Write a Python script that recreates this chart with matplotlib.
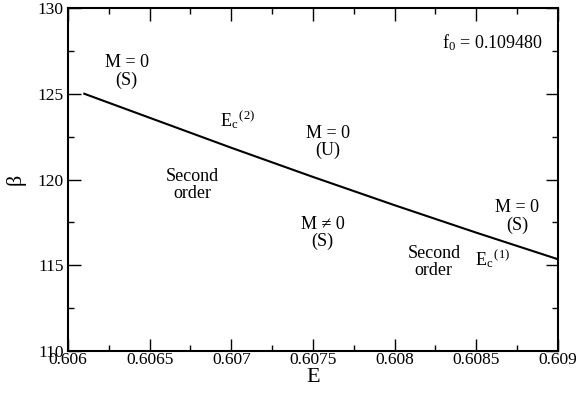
import numpy as np
import matplotlib
matplotlib.use('Agg')
import matplotlib.pyplot as plt
from matplotlib.ticker import MultipleLocator

plt.rcParams['font.family'] = ['Liberation Serif', 'DejaVu Serif']
plt.rcParams['mathtext.fontset'] = 'custom'
plt.rcParams['mathtext.rm'] = 'Liberation Serif'
plt.rcParams['mathtext.it'] = 'Liberation Serif:italic'

## Critical line beta(E)
energy = [0.6061, 0.6065, 0.6070, 0.6075, 0.6080, 0.6085, 0.6090]
beta = [125.0, 123.6, 121.85, 120.15, 118.5, 116.9, 115.35]

## Axis ticks
x_ticks = [0.606, 0.6065, 0.607, 0.6075, 0.608, 0.6085, 0.609]
x_labels = ['0.606', '0.6065', '0.607', '0.6075', '0.608', '0.6085', '0.609']
y_ticks = [110, 115, 120, 125, 130]

## Phase labels: (text, E, beta)
regions = [
    ('M = 0\n(S)', 0.60636, 126.3),
    ('M = 0\n(U)', 0.60759, 122.2),
    ('Second\norder', 0.60676, 119.7),
    ('M \u2260 0\n(S)', 0.60756, 116.9),
    ('Second\norder', 0.60824, 115.2),
    ('M = 0\n(S)', 0.60875, 117.85),
]
critical = [
    (r'$\mathrm{E_c}^{\,(2)}$', 0.60704, 123.5),
    (r'$\mathrm{E_c}^{\,(1)}$', 0.60860, 115.4),
]
f0_label = r'f$_0$ = 0.109480'

fig = plt.figure(figsize=(5.78, 3.94), dpi=100)
ax = fig.add_axes([0.1176, 0.1091, 0.8478, 0.8706])
ax.plot(energy, beta, color='black', lw=1.5)

for txt, x, y in regions:
    ax.text(x, y, txt, ha='center', va='center', fontsize=13,
            linespacing=1.0)
for txt, x, y in critical:
    ax.text(x, y, txt, ha='center', va='center', fontsize=13)
ax.text(0.60891, 128.0, f0_label, ha='right', va='center', fontsize=13)

ax.set_xlim(0.606, 0.609)
ax.set_ylim(110, 130)
ax.set_xticks(x_ticks)
ax.set_xticklabels(x_labels)
ax.set_yticks(y_ticks)
ax.xaxis.set_minor_locator(MultipleLocator(0.00025))
ax.yaxis.set_minor_locator(MultipleLocator(2.5))
ax.tick_params(which='both', direction='in', top=True, right=True,
               labelsize=12.5, width=1.0)
ax.tick_params(which='major', length=9)
ax.tick_params(which='minor', length=4.5)
ax.tick_params(axis='x', pad=1)
ax.tick_params(axis='y', pad=3)
for s in ax.spines.values():
    s.set_linewidth(1.5)

ax.set_xlabel('E', fontsize=16, labelpad=0)
ax.set_ylabel('\u03b2', fontsize=16, labelpad=9)

fig.savefig('out.png', dpi=100)
